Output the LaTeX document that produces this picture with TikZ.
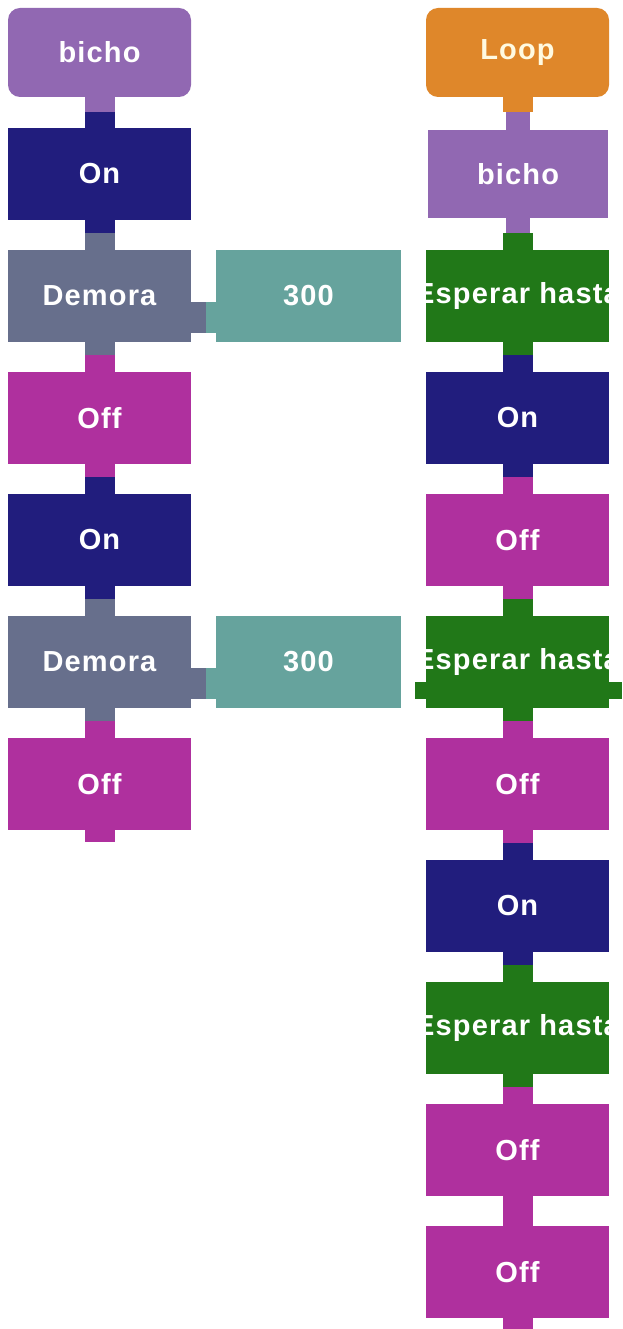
\documentclass[tikz,border=0pt]{standalone}
\usepackage{fontspec}
\setmainfont{Liberation Sans}
\newfontfamily\blkfont[LetterSpace=4]{Liberation Sans}
\definecolor{cPurple}{RGB}{145,104,178}
\definecolor{cNavy}{RGB}{33,29,125}
\definecolor{cGray}{RGB}{103,111,140}
\definecolor{cTeal}{RGB}{102,163,157}
\definecolor{cMag}{RGB}{175,48,158}
\definecolor{cOrange}{RGB}{223,135,42}
\definecolor{cGreen}{RGB}{33,120,24}
\newcommand{\toptab}[4]{\fill[#2] ([xshift=-#4pt]#1.north) rectangle ([xshift=#4pt,yshift=#3pt]#1.north);}
\newcommand{\bottab}[4]{\fill[#2] ([xshift=-#4pt]#1.south) rectangle ([xshift=#4pt,yshift=-#3pt]#1.south);}
\begin{document}
\begin{tikzpicture}[x=1pt,y=-1pt,
  blk/.style={rectangle,minimum width=183pt,minimum height=92pt,inner sep=0pt,
    text=white,font=\blkfont\bfseries\fontsize{29}{29}\selectfont},
  hat/.style={blk,rounded corners=12pt,minimum height=89pt},
  valbox/.style={blk,minimum width=185pt,fill=cTeal}]
\useasboundingbox (0,0) rectangle (623,1329);
\fill[white] (0,0) rectangle (623,1329);
% ---------------- left column ----------------
\node[hat,fill=cPurple] (L1) at (99.5,52.5) {bicho};
\node[blk,fill=cNavy] (L2) at (99.5,174) {On};
\node[blk,fill=cGray] (L3) at (99.5,296) {Demora};
\node[blk,fill=cMag] (L4) at (99.5,418) {Off};
\node[blk,fill=cNavy] (L5) at (99.5,540) {On};
\node[blk,fill=cGray] (L6) at (99.5,662) {Demora};
\node[blk,fill=cMag] (L7) at (99.5,784) {Off};
\node[valbox] (V1) at (308.5,296) {300};
\node[valbox] (V2) at (308.5,662) {300};
% tabs (connectors) left
\bottab{L1}{cPurple}{15}{15}
\toptab{L2}{cNavy}{16}{15}
\bottab{L2}{cNavy}{13}{15}
\toptab{L3}{cGray}{17}{15}
\bottab{L3}{cGray}{13}{15}
\toptab{L4}{cMag}{17}{15}
\bottab{L4}{cMag}{13}{15}
\toptab{L5}{cNavy}{17}{15}
\bottab{L5}{cNavy}{13}{15}
\toptab{L6}{cGray}{17}{15}
\bottab{L6}{cGray}{13}{15}
\toptab{L7}{cMag}{17}{15}
\bottab{L7}{cMag}{12}{15}
% side connectors Demora -> value
\fill[cGray] ([yshift=-6pt]L3.east) rectangle ([xshift=15pt,yshift=-37pt]L3.east);
\fill[cTeal] ([yshift=-6pt]V1.west) rectangle ([xshift=-10pt,yshift=-37pt]V1.west);
\fill[cGray] ([yshift=-6pt]L6.east) rectangle ([xshift=15pt,yshift=-37pt]L6.east);
\fill[cTeal] ([yshift=-6pt]V2.west) rectangle ([xshift=-10pt,yshift=-37pt]V2.west);
% ---------------- right column ----------------
\node[hat,fill=cOrange,text={rgb,255:red,255;green,250;blue,225}] (R1) at (517.5,52.5) {Loop};
\node[blk,fill=cPurple,minimum width=180pt,minimum height=88pt] (R2) at (518,174) {bicho};
\node[blk,fill=cGreen] (R3) at (517.5,296) {};
\node[blk,fill=cNavy] (R4) at (517.5,418) {On};
\node[blk,fill=cMag] (R5) at (517.5,540) {Off};
\node[blk,fill=cGreen] (R6) at (517.5,662) {};
\node[blk,fill=cMag] (R7) at (517.5,784) {Off};
\node[blk,fill=cNavy] (R8) at (517.5,906) {On};
\node[blk,fill=cGreen] (R9) at (517.5,1028) {};
\node[blk,fill=cMag] (R10) at (517.5,1150) {Off};
\node[blk,fill=cMag] (R11) at (517.5,1272) {Off};
\foreach \n in {R3,R6,R9}{
  \begin{scope}
    \clip (\n.south west) rectangle (\n.north east);
    \node[blk,minimum width=0pt] at (\n) {Esperar hasta};
  \end{scope}
}
% side tabs on second Esperar
\fill[cGreen] ([yshift=-37pt]R6.west) rectangle ([xshift=-11pt,yshift=-20pt]R6.west);
\fill[cGreen] ([yshift=-37pt]R6.east) rectangle ([xshift=13pt,yshift=-20pt]R6.east);
% tabs (connectors) right
\bottab{R1}{cOrange}{15}{15}
\toptab{R2}{cPurple}{18}{12}
\bottab{R2}{cPurple}{15}{12}
\toptab{R3}{cGreen}{17}{15}
\bottab{R3}{cGreen}{13}{15}
\toptab{R4}{cNavy}{17}{15}
\bottab{R4}{cNavy}{13}{15}
\toptab{R5}{cMag}{17}{15}
\bottab{R5}{cMag}{13}{15}
\toptab{R6}{cGreen}{17}{15}
\bottab{R6}{cGreen}{13}{15}
\toptab{R7}{cMag}{17}{15}
\bottab{R7}{cMag}{13}{15}
\toptab{R8}{cNavy}{17}{15}
\bottab{R8}{cNavy}{13}{15}
\toptab{R9}{cGreen}{17}{15}
\bottab{R9}{cGreen}{13}{15}
\toptab{R10}{cMag}{17}{15}
\bottab{R10}{cMag}{13}{15}
\toptab{R11}{cMag}{17}{15}
\bottab{R11}{cMag}{11}{15}
\end{tikzpicture}
\end{document}
